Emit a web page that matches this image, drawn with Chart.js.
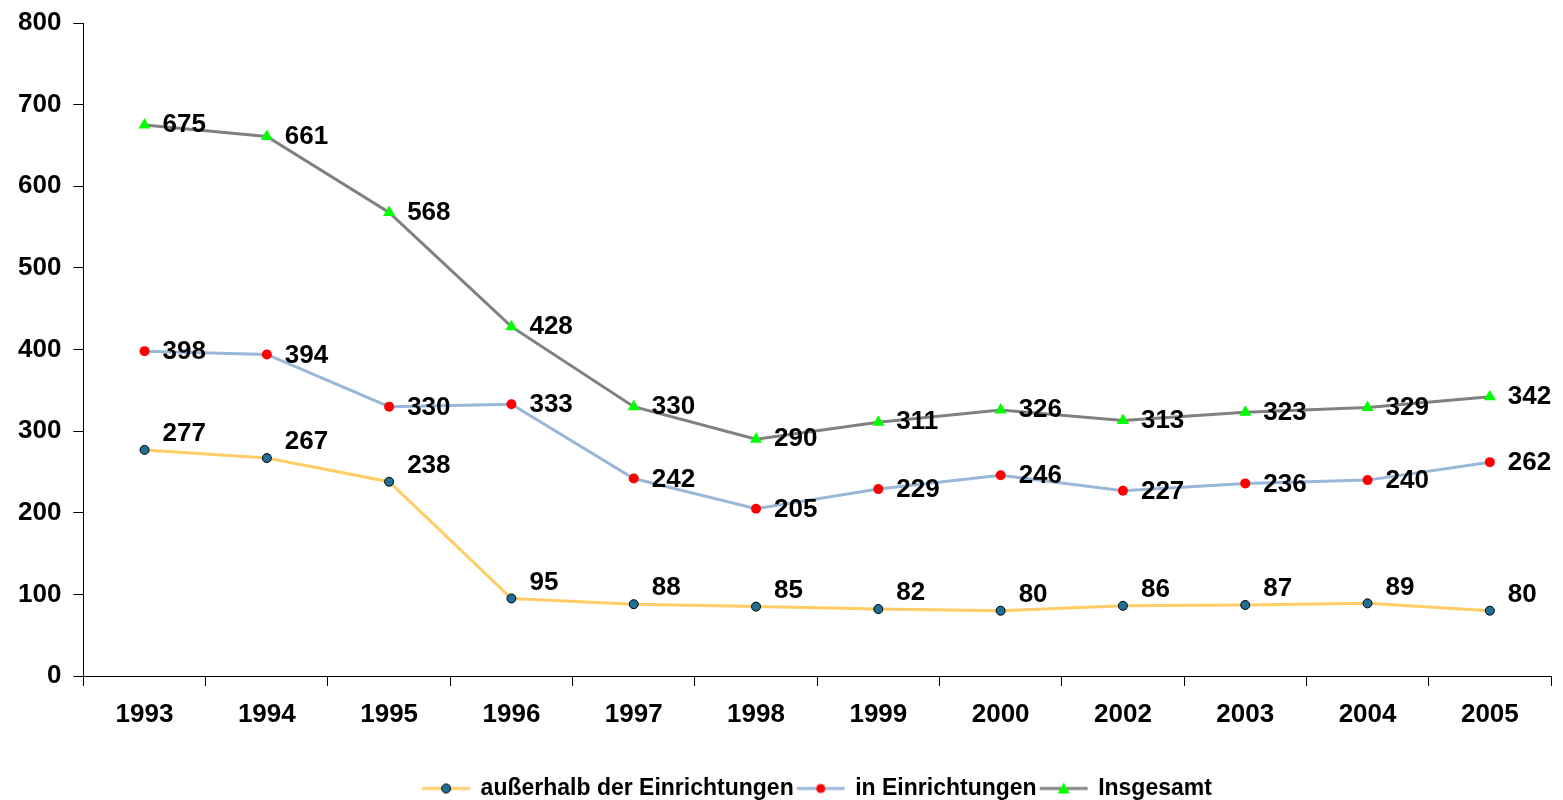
<!DOCTYPE html>
<html>
<head>
<meta charset="utf-8">
<script src="https://cdn.jsdelivr.net/npm/chart.js@4.4.0/dist/chart.umd.min.js"></script>
<style>
  html, body { margin: 0; padding: 0; background: #fff; overflow: hidden; }
  /* etwas höher als das Fenster: die Legende ist unten angeschnitten wie im Original */
  #wrap { width: 1563px; height: 810px; }
</style>
</head>
<body>
<div id="wrap"><canvas id="grafico"></canvas></div>
<script>
const jahre = ["1993", "1994", "1995", "1996", "1997", "1998", "1999", "2000", "2002", "2003", "2004", "2005"];
const ausserhalb = [277, 267, 238, 95, 88, 85, 82, 80, 86, 87, 89, 80];
const inEinrichtungen = [398, 394, 330, 333, 242, 205, 229, 246, 227, 236, 240, 262];
const insgesamt = [675, 661, 568, 428, 330, 290, 311, 326, 313, 323, 329, 342];
const yTicks = [0, 100, 200, 300, 400, 500, 600, 700, 800];

const schrift = "'Liberation Sans', Arial, sans-serif";

// kleines Bild für die Legende: Linie mit Marker
function legendeBild(linie, marker, rand, form) {
  const c = document.createElement("canvas");
  c.width = 50;
  c.height = 14;
  const g = c.getContext("2d");
  g.strokeStyle = linie;
  g.lineWidth = 3;
  g.beginPath();
  g.moveTo(1, 7);
  g.lineTo(49, 7);
  g.stroke();
  g.fillStyle = marker;
  g.beginPath();
  if (form == "dreieck") {
    g.moveTo(25, 1);
    g.lineTo(31, 12);
    g.lineTo(19, 12);
    g.closePath();
    g.fill();
  } else {
    g.arc(25, 7, 4.5, 0, Math.PI * 2);
    g.fill();
    if (rand) {
      g.strokeStyle = rand;
      g.lineWidth = 1;
      g.stroke();
    }
  }
  return c;
}

// Werte neben die Punkte schreiben
const wertePlugin = {
  id: "werte",
  afterDatasetsDraw(chart) {
    const ctx = chart.ctx;
    ctx.save();
    ctx.font = "bold 26px " + schrift;
    ctx.fillStyle = "#000";
    ctx.textAlign = "left";
    ctx.textBaseline = "middle";
    chart.data.datasets.forEach((ds, i) => {
      const meta = chart.getDatasetMeta(i);
      meta.data.forEach((pt, j) => {
        ctx.fillText(ds.data[j], pt.x + 18, pt.y + ds.labelDy);
      });
    });
    ctx.restore();
  },
};

// Legende im Original etwas nach rechts versetzt
const legendeVersatz = {
  id: "legendeVersatz",
  afterLayout(chart) {
    chart.legend.left += 78;
  },
};

const daten = {
  labels: jahre,
  datasets: [
    {
      label: "außerhalb der Einrichtungen",
      data: ausserhalb,
      borderColor: "#FFCC66",
      backgroundColor: "#1F6F97",
      pointBorderColor: "#000",
      pointBorderWidth: 1,
      pointRadius: 4.5,
      borderWidth: 3,
      labelDy: -16,
      legendBild: legendeBild("#FFCC66", "#1F6F97", "#000", "kreis"),
    },
    {
      label: "in Einrichtungen",
      data: inEinrichtungen,
      borderColor: "#99B8D8",
      backgroundColor: "#FF0000",
      pointBorderWidth: 0,
      pointRadius: 5,
      borderWidth: 3,
      labelDy: 1,
      legendBild: legendeBild("#99B8D8", "#FF0000", null, "kreis"),
    },
    {
      label: "Insgesamt",
      data: insgesamt,
      borderColor: "#808080",
      backgroundColor: "#00FF00",
      pointStyle: "triangle",
      pointBorderWidth: 0,
      pointRadius: 7,
      borderWidth: 3,
      labelDy: 0,
      legendBild: legendeBild("#808080", "#00FF00", null, "dreieck"),
    },
  ],
};

const optionen = {
  responsive: true,
  maintainAspectRatio: false,
  animation: false,
  layout: { padding: { top: 0, right: 12, left: 6, bottom: 0 } },
  scales: {
    x: {
      offset: true,
      afterFit: (axis) => {
        axis.height = 97;
      },
      grid: { offset: true, drawOnChartArea: false, drawTicks: true, tickLength: 10, color: "#000" },
      border: { color: "#000", width: 1 },
      ticks: { color: "#000", font: { family: schrift, size: 26, weight: "bold" }, padding: 13, maxRotation: 0 },
    },
    y: {
      min: 0,
      max: 800,
      afterBuildTicks: (axis) => {
        axis.ticks = yTicks.map((v) => ({ value: v }));
      },
      grid: { drawOnChartArea: false, drawTicks: true, tickLength: 10, color: "#000" },
      border: { color: "#000", width: 1 },
      ticks: { color: "#000", font: { family: schrift, size: 26, weight: "bold", lineHeight: 0.85 }, padding: 12 },
    },
  },
  plugins: {
    tooltip: { enabled: false },
    legend: {
      position: "bottom",
      labels: {
        usePointStyle: true,
        pointStyleWidth: 46,
        color: "#000",
        font: { family: schrift, size: 23, weight: "bold" },
        padding: 4,
        generateLabels: (chart) =>
          chart.data.datasets.map((ds, i) => ({
            text: ds.label,
            pointStyle: ds.legendBild,
            fillStyle: ds.backgroundColor,
            strokeStyle: ds.borderColor,
            lineWidth: 0,
            datasetIndex: i,
          })),
      },
    },
  },
};

const ctx = document.getElementById("grafico").getContext("2d");
const meinChart = new Chart(ctx, {
  type: "line",
  data: daten,
  options: optionen,
  plugins: [wertePlugin, legendeVersatz],
});
</script>
</body>
</html>
